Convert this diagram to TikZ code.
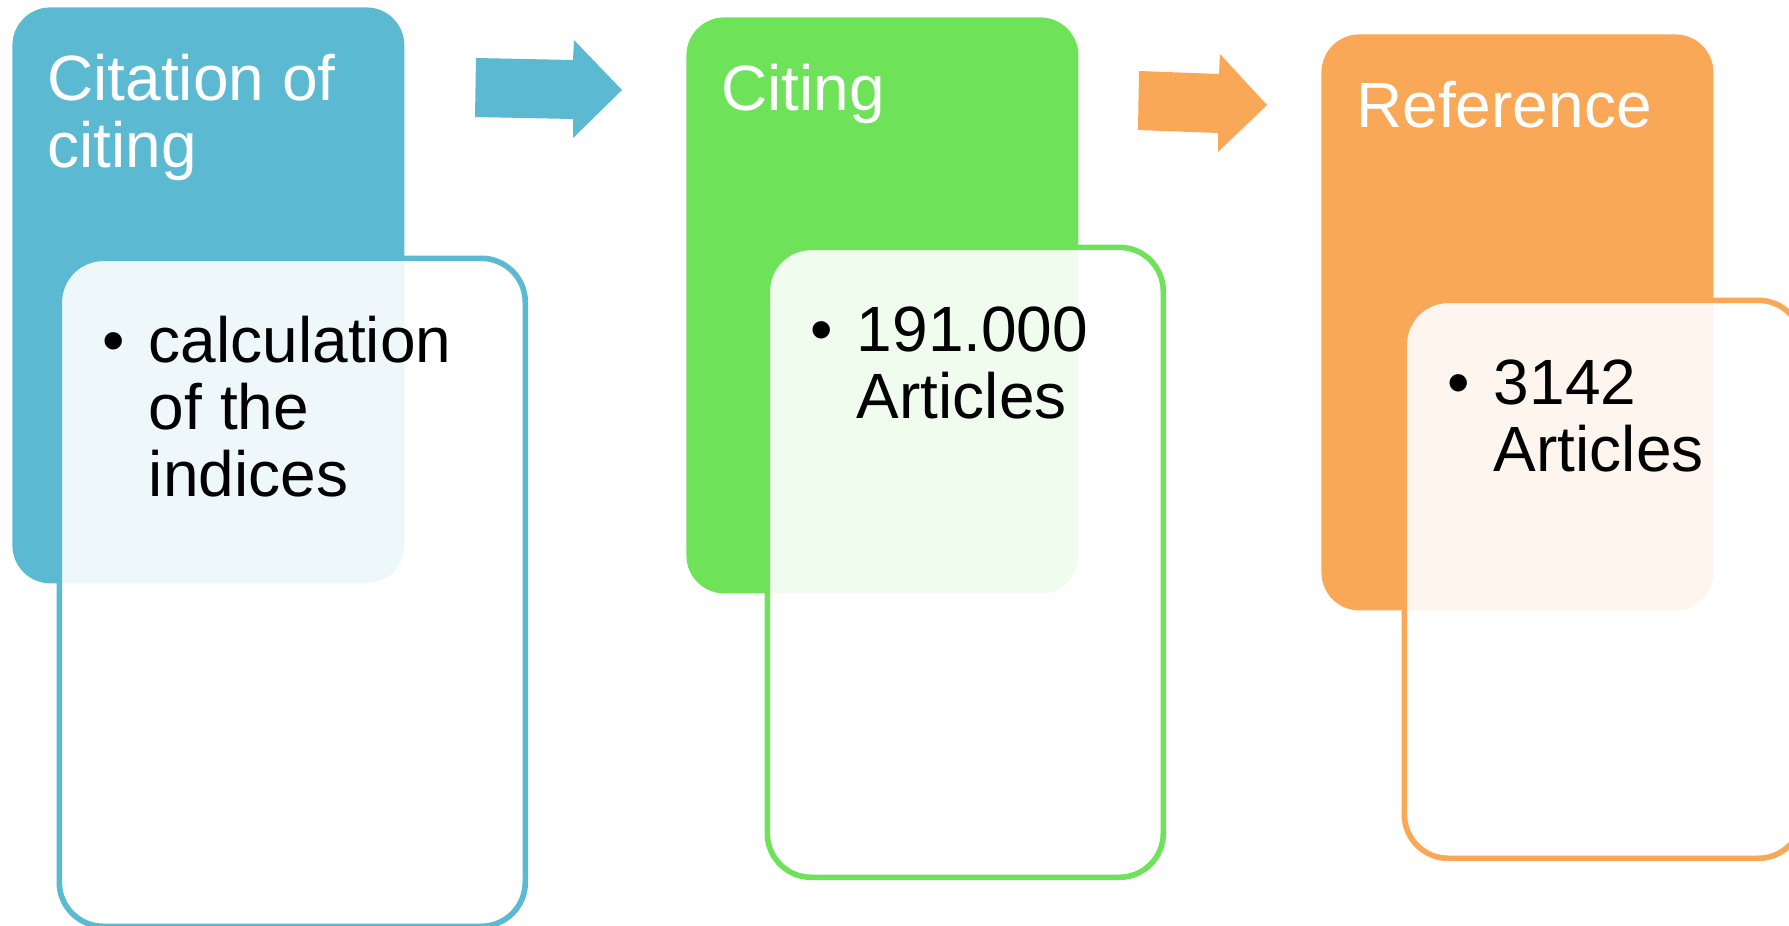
\documentclass[tikz,border=0pt]{standalone}
\usepackage{fontspec}
\setmainfont{Liberation Sans}
\usetikzlibrary{calc}
\definecolor{citeBlue}{HTML}{5BB9D2}
\definecolor{citeGreen}{HTML}{6EE35A}
\definecolor{citeOrange}{HTML}{F9A857}
\newcommand{\bul}{\makebox[23pt][l]{\textbullet}}

\begin{document}
\begin{tikzpicture}[
    x=0.5pt, y=-0.5pt,
    hdr/.style={rectangle, rounded corners=19pt, fill=#1, minimum width=196pt, minimum height=288pt, anchor=north west, inner sep=0pt},
    listbox/.style={rectangle, rounded corners=22pt, draw=#1, line width=2.8pt, fill=white, fill opacity=0.9, anchor=north west, inner sep=0pt},
    hdrtext/.style={anchor=base west, inner sep=0pt, text=white, align=left, font=\fontsize{32}{33.5}\selectfont},
    itemtext/.style={anchor=base west, inner sep=0pt, align=left, font=\fontsize{32}{33.5}\selectfont}
]
    \useasboundingbox (0,0) rectangle (1789,926);

    % header boxes
    \node[hdr=citeBlue] (cit) at (12,7) {};
    \node[hdr=citeGreen] (citing) at (686,17) {};
    \node[hdr=citeOrange] (ref) at (1321,34) {};

    % arrows between the steps
    \fill[citeBlue] (476,58) -- (573,60) -- (574,40) -- (622,90) -- (573,138) -- (573,119) -- (475,117) -- cycle;
    \fill[citeOrange] (1139,71) -- (1219,74) -- (1220,54) -- (1267,105) -- (1218,152) -- (1218,133) -- (1138,130) -- cycle;

    % lists
    \node[listbox=citeBlue, minimum width=233pt, minimum height=334pt] (citList) at (56.5,255.5) {};
    \node[listbox=citeGreen, minimum width=198pt, minimum height=315pt] (citingList) at (764.5,244.5) {};
    \node[listbox=citeOrange, minimum width=199pt, minimum height=279pt] (refList) at (1401.5,297.5) {};

    % texts (base = baseline of the last line)
    \node[hdrtext] (citTxt) at ($(cit.north west)+(35,160)$) {Citation of\\citing};
    \node[hdrtext] (citingTxt) at ($(citing.north west)+(35,93)$) {Citing};
    \node[hdrtext] (refTxt) at ($(ref.north west)+(35,93)$) {Reference};

    \node[itemtext] (citItem) at ($(citList.north west)+(46,241)$) {\bul calculation\\\hspace*{23pt}of the\\\hspace*{23pt}indices};
    \node[itemtext] (citingItem) at ($(citingList.north west)+(46,174)$) {\bul 191.000\\\hspace*{23pt}Articles};
    \node[itemtext] (refItem) at ($(refList.north west)+(46,174)$) {\bul 3142\\\hspace*{23pt}Articles};
\end{tikzpicture}
\end{document}
